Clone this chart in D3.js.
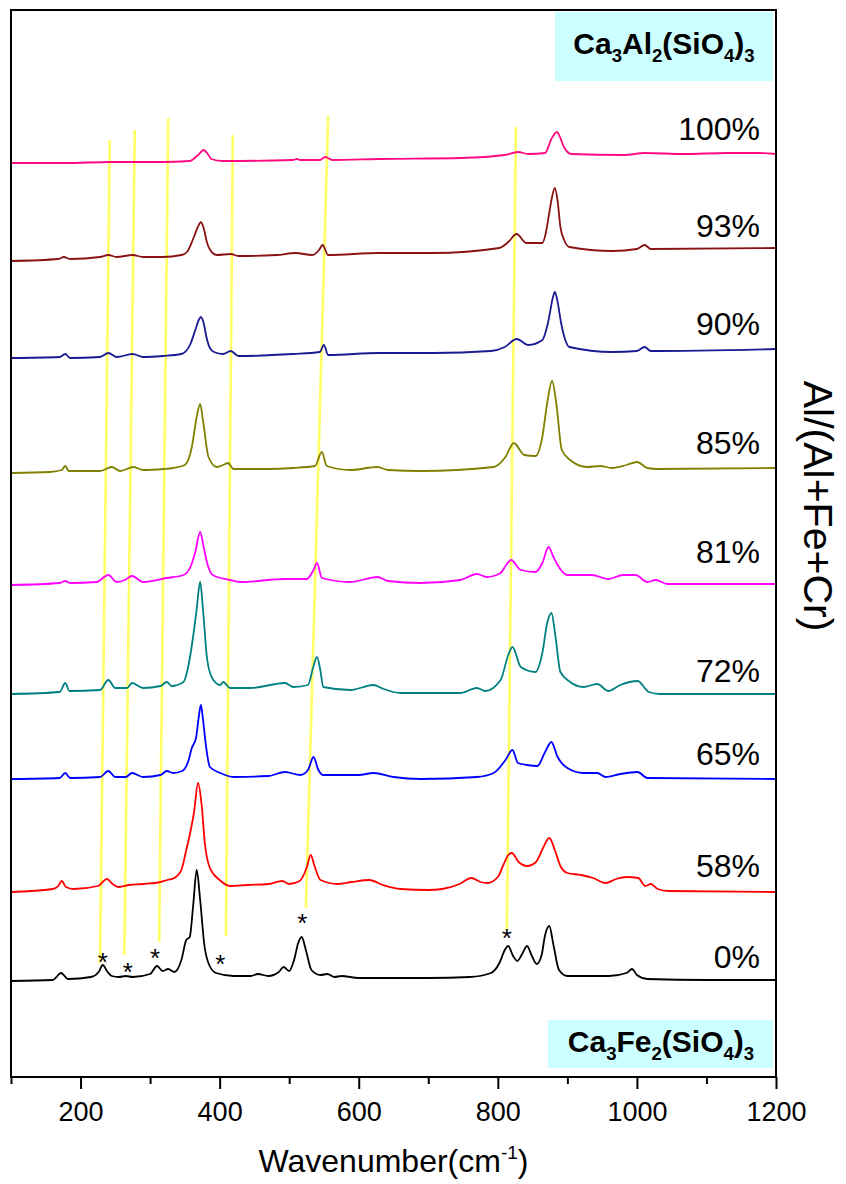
<!DOCTYPE html>
<html><head><meta charset="utf-8">
<script src="https://cdn.jsdelivr.net/npm/d3@7"></script>
<style>body{margin:0;background:#fff}svg text{font-family:"Liberation Sans",Arial,sans-serif}</style>
</head><body>
<svg id="chart" width="846" height="1184"></svg>
<script>
// ---------------- DATA ----------------
const xTicksMajor = [200, 400, 600, 800, 1000, 1200];
const xTicksMinor = [100, 300, 500, 700, 900, 1100];
const seriesNames = ["0%", "58%", "65%", "72%", "81%", "85%", "90%", "93%", "100%"];
// vertical offset (a.u.) of each stacked spectrum
const seriesOffsets = [9.6, 18.5, 29.8, 38.3, 49.2, 60.4, 71.9, 81.6, 91.4];
// spectra: [wavenumber, relative intensity a.u.]
const spec0 = [[100,0],[160,0.1],[172,0.8],[182,0.2],[215,0.4],[226,0.9],[232,1.6],[238,1.0],[245,0.5],[255,0.4],[265,0.5],[275,0.4],[300,0.7],[310,1.5],[318,1.0],[326,1.2],[335,0.9],[345,2.1],[352,4.1],[357,4.4],[362,7.6],[367,11.1],[372,8.1],[378,3.6],[385,1.6],[395,0.8],[420,0.5],[445,0.5],[455,0.7],[470,0.5],[485,0.9],[492,1.4],[500,1.0],[507,2.1],[513,3.8],[518,4.4],[524,3.1],[532,1.1],[545,0.6],[555,0.7],[565,0.4],[575,0.5],[600,0.3],[700,0.3],[760,0.4],[790,0.8],[803,1.9],[810,3.1],[815,3.5],[822,2.5],[828,2.0],[835,2.7],[842,3.5],[849,2.5],[856,1.7],[863,2.6],[868,4.6],[874,5.5],[880,3.6],[888,1.1],[900,0.5],[960,0.5],[985,0.8],[993,1.2],[1000,0.6],[1015,0.2],[1100,0.1],[1200,0.1]];
const spec58 = [[100,0],[160,0.3],[168,0.6],[173,1.1],[179,0.5],[190,0.3],[225,0.6],[238,1.3],[246,0.8],[255,0.5],[270,0.7],[290,0.8],[315,1.0],[325,1.2],[335,1.4],[345,2.2],[352,4.2],[357,5.7],[363,7.9],[369,10.9],[374,8.8],[379,4.7],[386,2.4],[400,1.2],[415,0.6],[440,0.7],[470,0.8],[490,1.1],[500,0.8],[515,1.1],[525,2.4],[531,3.7],[536,2.7],[545,1.2],[570,0.8],[590,1.0],[615,1.2],[635,0.7],[660,0.3],[700,0.2],[720,0.3],[745,0.8],[762,1.4],[775,1.0],[785,0.9],[800,1.5],[808,2.7],[815,3.7],[820,3.9],[830,3.0],[842,2.6],[855,3.0],[865,4.4],[874,5.4],[882,4.2],[890,2.6],[900,1.9],[920,1.7],[937,1.4],[955,0.9],[970,1.3],[985,1.5],[1002,1.4],[1012,0.6],[1020,0.8],[1030,0.3],[1045,0.1],[1200,0]];
const spec65 = [[100,0],[170,0.1],[178,0.6],[185,0.1],[228,0.2],[240,0.8],[250,0.2],[265,0.2],[274,0.6],[290,0.2],[315,0.4],[324,0.8],[333,0.6],[346,0.8],[355,1.8],[360,3.1],[366,4.1],[370,6.2],[373,7.4],[376,6.0],[380,3.5],[386,1.2],[401,0.6],[420,0.2],[470,0.3],[494,0.7],[516,0.4],[527,0.9],[535,2.2],[542,0.9],[549,0.4],[564,0.4],[600,0.4],[621,0.6],[650,0.2],[689,0],[770,0.2],[794,0.6],[811,1.9],[821,2.9],[829,1.6],[842,1.4],[857,1.3],[868,2.7],[877,3.7],[886,2.2],[900,1.1],[923,0.6],[943,0.6],[955,0.2],[976,0.5],[1001,0.7],[1015,0.1],[1200,0]];
const spec72 = [[100,0],[170,0.2],[178,1.1],[184,0.3],[228,0.4],[240,1.4],[250,0.6],[267,0.6],[274,1.1],[290,0.6],[315,0.8],[324,1.2],[331,0.8],[348,1.2],[355,2.8],[362,5.8],[367,8.5],[372,11.2],[376,8.5],[382,3.5],[390,1.5],[401,0.9],[405,1.2],[415,0.6],[444,0.6],[494,1.1],[506,0.7],[527,0.9],[535,2.8],[540,3.7],[545,2.3],[549,0.7],[588,0.4],[621,0.9],[636,0.5],[660,0.1],[746,0.1],[770,0.6],[782,0.3],[804,1.4],[815,3.9],[821,4.7],[833,2.7],[854,2.2],[864,4.1],[871,7.1],[877,8.1],[883,5.7],[890,2.2],[904,1.2],[923,0.7],[943,1.0],[959,0.3],[976,0.9],[1001,1.3],[1017,0.2],[1034,0],[1200,0]];
const spec81 = [[100,0],[170,0.2],[178,0.4],[185,0.2],[223,0.3],[240,1.0],[252,0.3],[264,0.5],[274,0.9],[290,0.3],[324,0.7],[348,1.0],[358,1.8],[365,3.3],[372,5.3],[377,3.8],[382,2.2],[390,1.0],[415,0.5],[430,0.3],[494,0.6],[525,0.6],[535,1.5],[540,2.2],[547,0.7],[588,0.3],[627,0.8],[642,0.4],[689,0.2],[746,0.5],[770,1.1],[784,0.8],[804,1.2],[812,2.0],[819,2.5],[833,1.5],[854,1.3],[864,2.2],[873,3.8],[880,2.8],[886,2.0],[900,1.0],[935,1.0],[959,0.6],[980,1.0],[998,1.0],[1015,0.3],[1027,0.5],[1044,0.1],[1200,0.1]];
const spec85 = [[100,0],[156,0.1],[173,0.3],[178,0.7],[183,0.2],[228,0.2],[245,0.6],[257,0.2],[276,0.6],[290,0.3],[319,0.4],[333,0.5],[350,0.8],[360,2.6],[367,5.6],[372,6.9],[376,5.3],[384,1.6],[396,0.6],[408,0.9],[412,1.0],[420,0.4],[468,0.4],[506,0.5],[537,0.7],[547,2.1],[554,0.7],[588,0.3],[627,0.6],[642,0.3],[689,0.2],[794,0.6],[811,1.6],[823,3.0],[838,1.8],[854,1.7],[864,3.6],[871,7.0],[878,9.2],[884,7.0],[892,2.3],[904,1.3],[928,0.6],[947,0.7],[964,0.5],[985,0.8],[1000,1.1],[1015,0.5],[1029,0.4],[1200,0.5]];
const spec90 = [[100,0],[170,0.1],[178,0.4],[185,0],[228,0.1],[240,0.5],[252,0.1],[275,0.4],[290,0.1],[318,0.2],[345,0.4],[358,1.4],[365,2.8],[370,3.8],[373,4.1],[377,3.5],[381,2.1],[386,1.0],[392,0.6],[405,0.4],[416,0.7],[427,0.2],[505,0.4],[544,0.6],[550,1.3],[556,0.3],[629,0.5],[708,0.5],[790,0.7],[810,1.1],[827,1.9],[844,1.3],[864,1.8],[873,3.8],[879,6.0],[882,6.6],[886,5.6],[891,3.5],[897,1.8],[903,1.1],[965,0.6],[1000,0.7],[1011,1.1],[1020,0.7],[1200,0.9]];
const spec93 = [[100,0],[168,0.2],[176,0.4],[185,0.2],[228,0.4],[240,0.6],[252,0.4],[275,0.6],[290,0.4],[318,0.4],[345,0.6],[353,0.9],[363,2.4],[370,3.6],[373,3.9],[377,3.3],[382,1.8],[390,0.8],[396,0.6],[416,0.7],[427,0.5],[482,0.6],[509,0.8],[533,0.6],[543,1.1],[548,1.6],[556,0.6],[629,0.8],[708,0.8],[802,1.3],[815,1.9],[827,2.7],[841,1.8],[864,1.8],[869,2.8],[873,4.4],[878,6.4],[882,7.3],[886,6.0],[890,3.4],[896,2.0],[903,1.4],[965,1.0],[1000,1.2],[1011,1.6],[1020,1.2],[1200,1.3]];
const spec100 = [[100,0],[178,0],[244,0.1],[318,0.1],[357,0.2],[369,0.8],[377,1.3],[383,0.9],[388,0.4],[404,0.2],[505,0.3],[511,0.4],[516,0.3],[544,0.3],[552,0.6],[562,0.3],[629,0.4],[747,0.5],[810,0.8],[829,1.1],[844,0.9],[868,1.0],[877,2.4],[885,3.1],[890,2.5],[895,1.6],[906,0.9],[981,0.8],[1012,1.0],[1067,0.9],[1129,1.0],[1176,1.0],[1200,0.9]];
const spectra = [spec0, spec58, spec65, spec72, spec81, spec85, spec90, spec93, spec100];
// guide lines: top and bottom ends (wavenumber, a.u.)
const guideTopWn = [242, 278, 326, 419, 556, 826];
const guideTopY = [93.7, 94.7, 95.9, 94.2, 96.1, 95.0];
const guideBotWn = [228, 263, 313, 409, 524, 813];
const guideBotY = [11.4, 12.2, 13.5, 14.1, 16.9, 14.7];
// asterisk marks on the 0% spectrum
const starWn = [232, 268, 307, 401, 519, 813];
const starRel = [2.4, 1.4, 2.8, 2.2, 6.3, 4.8];

// ---------------- STYLE / LAYOUT ----------------
const colors = ["#000000", "#ff0000", "#0000ff", "#008080", "#ff00ff", "#808000", "#1a1a92", "#8b1212", "#ff0a80"];
const labelLift = [13, 15, 14, 12, 22, 19, 23, 24, 23];
const L = 11, R = 776, T = 10, B = 1077;

const svg = d3.select("#chart");
const x = d3.scaleLinear().domain([100, 1200]).range([L, R]);
const y = d3.scaleLinear().domain([0, 106.7]).range([B, T]);

// guide lines
svg.append("g").selectAll("line").data(guideTopWn).join("line")
  .attr("x1", (d, i) => x(d)).attr("y1", (d, i) => y(guideTopY[i]))
  .attr("x2", (d, i) => x(guideBotWn[i])).attr("y2", (d, i) => y(guideBotY[i]))
  .attr("stroke", "#ffff66").attr("stroke-width", 2.6);

// spectra
const line = d3.line().curve(d3.curveMonotoneX);
svg.append("g").selectAll("path").data(spectra).join("path")
  .attr("d", (s, i) => line(s.map(p => [x(p[0]), y(p[1] + seriesOffsets[i])])))
  .attr("fill", "none").attr("stroke", (d, i) => colors[i]).attr("stroke-width", 1.8)
  .attr("stroke-linejoin", "round");

// asterisks
svg.append("g").selectAll("text").data(starWn).join("text")
  .attr("x", d => x(d)).attr("y", (d, i) => y(starRel[i] + seriesOffsets[0]) + 14)
  .attr("text-anchor", "middle").attr("font-size", 26).text("*");

// series labels
svg.append("g").selectAll("text").data(seriesNames).join("text")
  .attr("x", 760).attr("y", (d, i) => y(seriesOffsets[i]) - labelLift[i])
  .attr("text-anchor", "end").attr("font-size", 32).text(d => d);

// formula boxes
function formula(g, parts, cx, by, size) {
  const t = g.append("text").attr("x", cx).attr("y", by).attr("text-anchor", "middle")
    .attr("font-size", size).attr("font-weight", "bold");
  let sub = false;
  parts.forEach(p => {
    const isSub = /^\d$/.test(p);
    const ts = t.append("tspan").text(p);
    if (isSub && !sub) { ts.attr("dy", size * 0.28).attr("font-size", size * 0.62); sub = true; }
    else if (isSub && sub) { ts.attr("font-size", size * 0.62); }
    else if (!isSub && sub) { ts.attr("dy", -size * 0.28); sub = false; }
  });
}
const topBox = svg.append("g");
topBox.append("rect").attr("x", 555).attr("y", 12).attr("width", 218).attr("height", 69).attr("fill", "#ccffff");
formula(topBox, ["Ca", "3", "Al", "2", "(SiO", "4", ")", "3"], 664, 54, 30);
const botBox = svg.append("g");
botBox.append("rect").attr("x", 548).attr("y", 1020).attr("width", 225).attr("height", 48).attr("fill", "#ccffff");
formula(botBox, ["Ca", "3", "Fe", "2", "(SiO", "4", ")", "3"], 661, 1052, 30);

// frame
svg.append("rect").attr("x", L).attr("y", T).attr("width", R - L).attr("height", B - T)
  .attr("fill", "none").attr("stroke", "#000").attr("stroke-width", 2);

// x axis
const ax = svg.append("g").attr("transform", `translate(0,${B})`)
  .call(d3.axisBottom(x).tickValues(xTicksMajor).tickSize(12).tickPadding(13).tickFormat(d3.format("d")));
ax.select(".domain").remove();
ax.selectAll(".tick line").attr("stroke-width", 2);
ax.selectAll(".tick text").attr("font-size", 27).attr("font-family", "Liberation Sans, Arial, sans-serif").attr("fill", "#000");
const axm = svg.append("g").attr("transform", `translate(0,${B})`)
  .call(d3.axisBottom(x).tickValues(xTicksMinor).tickSize(7).tickFormat(""));
axm.select(".domain").remove();
axm.selectAll(".tick line").attr("stroke-width", 2);

// axis titles
const xt = svg.append("text").attr("x", (L + R) / 2).attr("y", 1172).attr("text-anchor", "middle").attr("font-size", 32);
xt.append("tspan").text("Wavenumber(cm");
xt.append("tspan").text("-1").attr("font-size", 19).attr("dy", -13);
xt.append("tspan").text(")").attr("dy", 13);
svg.append("text").attr("transform", "translate(804,506) rotate(90)").attr("text-anchor", "middle")
  .attr("font-size", 41).text("Al/(Al+Fe+Cr)");
</script>
</body></html>
